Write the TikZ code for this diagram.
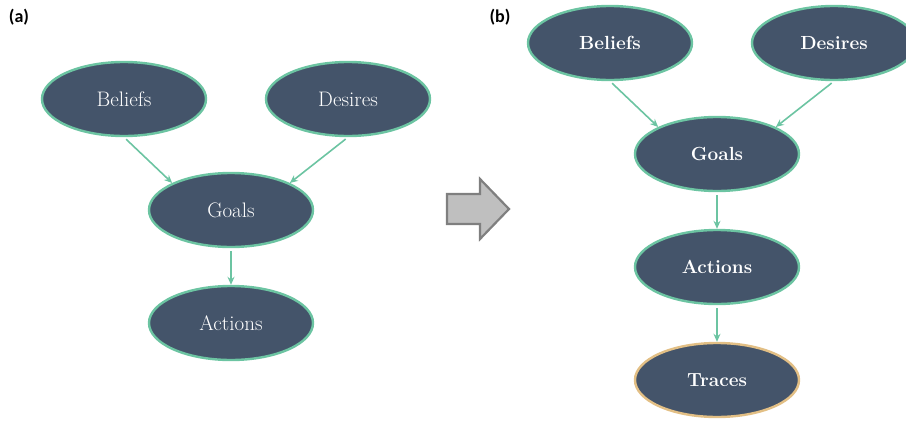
\documentclass[tikz,border=0pt]{standalone}
\usepackage{fontspec}
\newfontfamily\labelfont{Carlito}
\usetikzlibrary{shapes.geometric,arrows.meta}
\definecolor{nodefill}{HTML}{44546A}
\definecolor{mint}{HTML}{6CC4A2}
\definecolor{sand}{HTML}{E2BF85}
\definecolor{arrowfill}{HTML}{BFBFBF}
\definecolor{arrowedge}{HTML}{7F7F7F}
\tikzset{
  state/.style={ellipse, draw=mint, line width=2.4pt, fill=nodefill,
    minimum width=164pt, minimum height=74pt, inner sep=0pt,
    text=white, font=\fontsize{21}{24}\selectfont},
  boldstate/.style={state, font=\fontsize{19}{22}\selectfont\bfseries},
  link/.style={draw=mint, line width=1.6pt, shorten <=3pt,
    -{Stealth[length=8pt,width=7pt]}},
  panel/.style={font=\labelfont\bfseries\fontsize{18}{21}\selectfont}
}
\begin{document}
\begin{tikzpicture}[x=1pt,y=-1pt]
  \useasboundingbox (0,0) rectangle (906,421);
  % panel labels
  \node[panel] (la) at (19,17) {(a)};
  \node[panel] (lb) at (500,17) {(b)};
  % left network
  \node[state] (b1) at (124,99) {Beliefs};
  \node[state] (d1) at (348,99) {Desires};
  \node[state] (g1) at (231,210) {Goals};
  \node[state] (a1) at (231,323) {Actions};
  \draw[link] (b1.south) -- (g1.north west);
  \draw[link] (d1.south) -- (g1.north east);
  \draw[link] (g1.south) -- (a1.north);
  % block arrow between panels
  \draw[fill=arrowfill, draw=arrowedge, line width=2.2pt, line join=miter]
    (447,194) -- (480,194) -- (480,179) -- (509,209) -- (480,239)
    -- (480,224) -- (447,224) -- cycle;
  % right network
  \node[boldstate] (b2) at (610,43) {Beliefs};
  \node[boldstate] (d2) at (834,43) {Desires};
  \node[boldstate] (g2) at (717,154) {Goals};
  \node[boldstate] (a2) at (717,267) {Actions};
  \node[boldstate, draw=sand] (t2) at (717,380) {Traces};
  \draw[link] (b2.south) -- (g2.north west);
  \draw[link] (d2.south) -- (g2.north east);
  \draw[link] (g2.south) -- (a2.north);
  \draw[link] (a2.south) -- (t2.north);
\end{tikzpicture}
\end{document}
